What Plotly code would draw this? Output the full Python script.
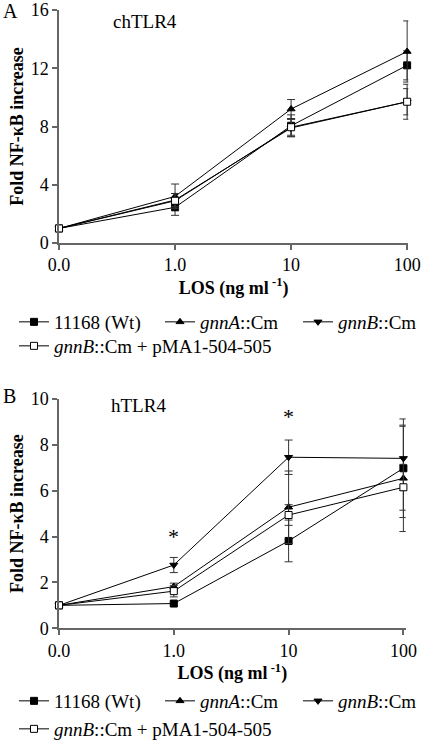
import plotly.graph_objects as go

W, H = 425, 750

doses = ["0.0", "1.0", "10", "100"]
series_names = ["11168 (Wt)", "<i>gnnA</i>::Cm", "<i>gnnB</i>::Cm",
                "<i>gnnB</i>::Cm + pMA1-504-505"]
symbols = ["square", "triangle-up", "triangle-down", "square"]
fills = ["black", "black", "black", "white"]

# Panel A: chTLR4
chTLR4_wt = [1.0, 2.45, 8.05, 12.2]
chTLR4_wt_err = [0.05, 0.55, 0.75, 1.0]
chTLR4_gnnA = [1.0, 3.2, 9.2, 13.15]
chTLR4_gnnA_err = [0.05, 0.85, 0.65, 2.1]
chTLR4_gnnB = [1.0, 2.95, 7.9, 9.7]
chTLR4_gnnB_err = [0.05, 0.45, 0.6, 0.9]
chTLR4_comp = [1.0, 2.9, 7.95, 9.7]
chTLR4_comp_err = [0.05, 0.5, 0.55, 1.2]

# Panel B: hTLR4
hTLR4_wt = [1.0, 1.08, 3.81, 6.98]
hTLR4_wt_err = [0.05, 0.06, 0.91, 2.15]
hTLR4_gnnA = [1.0, 1.82, 5.28, 6.54]
hTLR4_gnnA_err = [0.05, 0.15, 1.58, 2.32]
hTLR4_gnnB = [1.0, 2.76, 7.46, 7.41]
hTLR4_gnnB_err = [0.05, 0.33, 0.75, 1.4]
hTLR4_comp = [1.0, 1.62, 4.94, 6.15]
hTLR4_comp_err = [0.05, 0.25, 0.45, 1.0]

# significance marks on panel B
star_x = ["1.0", "10"]
star_y = [4.0, 9.25]

FONT = "Liberation Serif, Times New Roman, serif"

panelA = [(chTLR4_wt, chTLR4_wt_err), (chTLR4_gnnA, chTLR4_gnnA_err),
          (chTLR4_gnnB, chTLR4_gnnB_err), (chTLR4_comp, chTLR4_comp_err)]
panelB = [(hTLR4_wt, hTLR4_wt_err), (hTLR4_gnnA, hTLR4_gnnA_err),
          (hTLR4_gnnB, hTLR4_gnnB_err), (hTLR4_comp, hTLR4_comp_err)]

fig = go.Figure()

# legend slots: one legend per entry so each sits where the reference puts it
legend_x_px = [14, 160, 298, 14]
legend_row = [0, 0, 0, 1]
legend_rows_A = [322, 346]
legend_rows_B = [701, 729]


def add_panel(data, xa, ya, first_legend):
    for i, (vals, errs) in enumerate(data):
        lg_idx = first_legend + i
        fig.add_trace(go.Scatter(
            x=doses, y=vals, name=series_names[i],
            mode="lines+markers", xaxis=xa, yaxis=ya,
            line=dict(color="black", width=1),
            marker=dict(symbol=symbols[i], size=7, color=fills[i],
                        line=dict(color="black", width=1)),
            error_y=dict(type="data", array=errs, visible=True,
                         color="#333333", thickness=1, width=4),
            cliponaxis=False,
            legend="legend" if lg_idx == 1 else f"legend{lg_idx}",
        ))


add_panel(panelA, "x", "y", 1)
add_panel(panelB, "x2", "y2", 5)


def xaxis(domain, rng, anchor, standoff):
    return dict(domain=domain, anchor=anchor, type="category",
                categoryorder="array", categoryarray=doses, range=rng,
                showline=True, linecolor="#666666", linewidth=1.5,
                ticks="outside", ticklen=5, tickcolor="#666666", tickwidth=1.5,
                tickfont=dict(family=FONT, size=18, color="black"),
                showgrid=False, zeroline=False, automargin=False,
                title=dict(text="<b>LOS (ng ml<sup> -1</sup>)</b>", standoff=standoff,
                           font=dict(family=FONT, size=18, color="black")))


def yaxis(domain, rng, dtick, anchor):
    return dict(domain=domain, anchor=anchor, range=rng, dtick=dtick,
                showline=True, linecolor="#666666", linewidth=1.5,
                ticks="outside", ticklen=5, tickcolor="#666666", tickwidth=1.5,
                tickfont=dict(family=FONT, size=18, color="black"),
                showgrid=False, zeroline=False, automargin=False,
                title=dict(text="<b>Fold NF-\u03baB increase</b>", standoff=2,
                           font=dict(family=FONT, size=18, color="black")))


def leg(xpx, ypx):
    return dict(orientation="h", x=xpx / W, y=1 - ypx / H, xanchor="left", yanchor="middle",
                font=dict(family=FONT, size=19, color="black"),
                bgcolor="rgba(0,0,0,0)", itemwidth=30)


legends = {}
for k in range(8):
    i = k % 4
    rows = legend_rows_A if k < 4 else legend_rows_B
    key = "legend" if k == 0 else f"legend{k + 1}"
    legends[key] = leg(legend_x_px[i], rows[legend_row[i]])

ann_font = dict(family=FONT, size=19, color="black")
annotations = [
    dict(text="A", x=1 / W, y=1 - 11 / H, xref="paper", yref="paper",
         xanchor="left", yanchor="middle", showarrow=False, font=dict(family=FONT, size=20)),
    dict(text="B", x=1 / W, y=1 - 396 / H, xref="paper", yref="paper",
         xanchor="left", yanchor="middle", showarrow=False, font=dict(family=FONT, size=20)),
    dict(text="chTLR4", x=145 / W, y=1 - 22 / H, xref="paper", yref="paper",
         xanchor="center", yanchor="middle", showarrow=False, font=ann_font),
    dict(text="hTLR4", x=138 / W, y=1 - 405 / H, xref="paper", yref="paper",
         xanchor="center", yanchor="middle", showarrow=False, font=ann_font),
]
for sx, sy in zip(star_x, star_y):
    annotations.append(dict(text="*", x=doses.index(sx), y=sy, xref="x2", yref="y2",
                            showarrow=False, font=dict(family=FONT, size=22, color="black")))

fig.update_layout(
    width=W, height=H,
    margin=dict(l=0, r=0, t=0, b=0),
    font=dict(family=FONT, color="black"),
    paper_bgcolor="white", plot_bgcolor="white",
    xaxis=xaxis([59 / W, 408.3 / W], [0, 3.01], "y", 6),
    yaxis=yaxis([1 - 243 / H, 1 - 10 / H], [0, 16], 4, "x"),
    xaxis2=xaxis([59 / W, 405.7 / W], [0, 3.02], "y2", 6),
    yaxis2=yaxis([1 - 628.3 / H, 1 - 399 / H], [0, 10], 2, "x2"),
    annotations=annotations,
    showlegend=True,
    **legends,
)

fig.write_html("out.html", config={"displayModeBar": False},
               post_script="document.body.style.margin='0';")
